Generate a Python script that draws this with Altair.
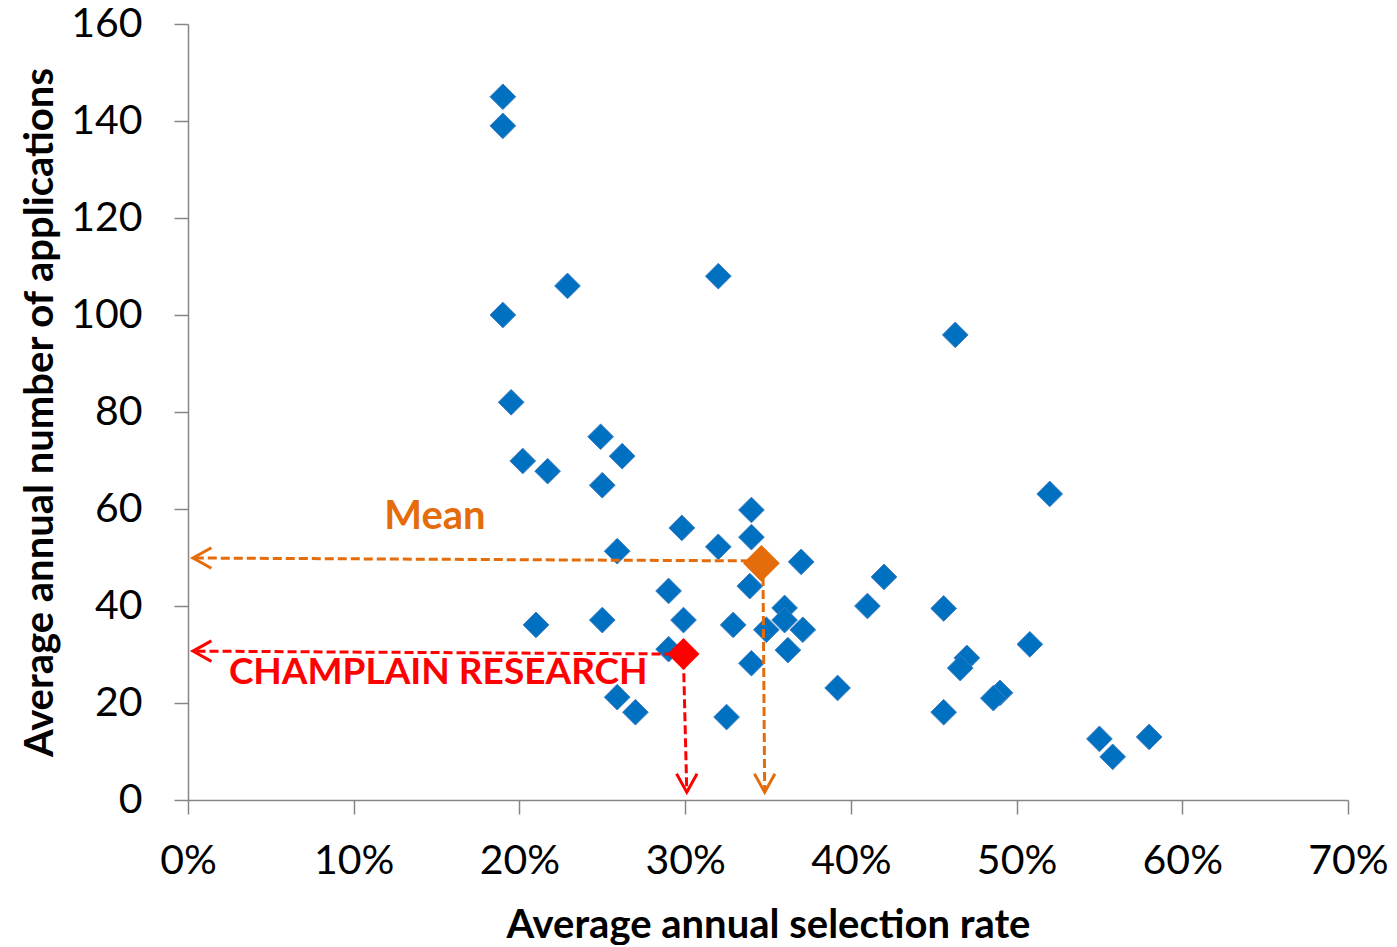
import altair as alt
import pandas as pd

# Blue school points: selection rate (%), applications
rate_pct = [19.0, 19.0, 22.9, 32.0, 46.3, 19.0, 19.5, 24.9, 26.2, 20.2,
            21.7, 25.0, 52.0, 34.0, 29.8, 34.0, 25.9, 32.0, 37.0, 33.9,
            29.0, 42.0, 41.0, 45.6, 36.0, 36.0, 34.9, 37.1, 36.2, 34.0,
            32.9, 29.9, 25.0, 29.0, 25.9, 27.0, 32.5, 39.2, 21.0, 47.0,
            46.6, 50.8, 49.0, 48.6, 45.6, 55.0, 55.8, 58.0]
applications = [145.0, 139.0, 106.0, 108.0, 95.9, 100.0, 82.0, 74.9, 70.9, 69.9,
                67.8, 64.9, 63.1, 59.8, 56.1, 54.2, 51.3, 52.2, 49.1, 44.1,
                43.1, 46.0, 40.0, 39.5, 39.6, 37.1, 35.1, 35.1, 30.9, 28.2,
                36.1, 37.1, 37.1, 31.1, 21.2, 18.1, 17.1, 23.1, 36.1, 29.3,
                27.2, 32.1, 22.1, 21.0, 18.1, 12.6, 8.9, 13.0]

mean_rate_pct = 34.6
mean_apps = 48.8
champlain_rate_pct = 29.9
champlain_apps = 30.1

x_ticks_pct = [0, 10, 20, 30, 40, 50, 60, 70]
y_ticks = [0, 20, 40, 60, 80, 100, 120, 140, 160]

BLUE = "#0070C0"
ORANGE = "#E46C0A"
RED = "#FF0000"
AXIS_GRAY = "#868686"
FONT = "Lato"

pts = pd.DataFrame({"rate": [r / 100 for r in rate_pct], "apps": applications})
mean_df = pd.DataFrame({"rate": [mean_rate_pct / 100], "apps": [mean_apps]})
champ_df = pd.DataFrame({"rate": [champlain_rate_pct / 100], "apps": [champlain_apps]})

xscale = alt.Scale(domain=[0, 0.7], nice=False, zero=True)
yscale = alt.Scale(domain=[0, 160], nice=False)

xaxis = alt.Axis(values=[v / 100 for v in x_ticks_pct], format=".0%", grid=False,
                 labelFlush=False,
                 title="Average annual selection rate", titleY=125, titleBaseline="middle")
yaxis = alt.Axis(values=y_ticks, grid=False, labelFlush=False,
                 title="Average annual number of applications",
                 titleX=-148, titleY=388, titleBaseline="middle", titleAngle=-90)

base_x = alt.X("rate:Q", scale=xscale, axis=xaxis)
base_y = alt.Y("apps:Q", scale=yscale, axis=yaxis)

points = alt.Chart(pts).mark_point(shape="diamond", filled=True, size=660,
                                   color=BLUE, stroke="#3C7DC4", strokeWidth=1,
                                   opacity=1).encode(x=base_x, y=base_y)

# Arrow segments (start rate, start apps, end rate, end apps)
seg_orange = pd.DataFrame({
    "rate": [0.339, 0.347], "apps": [49.3, 46.0],
    "rate2": [0.003, 0.348], "apps2": [49.9, 1.6]})
seg_red = pd.DataFrame({
    "rate": [0.293, 0.299], "apps": [30.1, 28.8],
    "rate2": [0.003, 0.301], "apps2": [30.7, 1.6]})


def segs(df, color):
    return alt.Chart(df).mark_rule(color=color, strokeWidth=3,
                                   strokeDash=[9, 4]).encode(
        x=alt.X("rate:Q", scale=xscale), y=alt.Y("apps:Q", scale=yscale),
        x2="rate2:Q", y2="apps2:Q")


left_head = "M 1.8 -1 L 0 0 L 1.8 1"
down_head = "M -1 -1.8 L 0 0 L 1 -1.8"


def heads(rates, apps, shape, color):
    df = pd.DataFrame({"rate": rates, "apps": apps})
    return alt.Chart(df).mark_point(shape=shape, filled=False, size=420,
                                    color=color, strokeWidth=3, opacity=1).encode(
        x=alt.X("rate:Q", scale=xscale), y=alt.Y("apps:Q", scale=yscale))


orange_heads = heads([0.003], [49.9], left_head, ORANGE) + heads([0.348], [1.6], down_head, ORANGE)
red_heads = heads([0.003], [30.7], left_head, RED) + heads([0.301], [1.6], down_head, RED)

mean_pt = alt.Chart(mean_df).mark_point(shape="diamond", filled=True, size=1350,
                                        color=ORANGE, opacity=1).encode(
    x=alt.X("rate:Q", scale=xscale), y=alt.Y("apps:Q", scale=yscale))
champ_pt = alt.Chart(champ_df).mark_point(shape="diamond", filled=True, size=1024,
                                          color=RED, opacity=1).encode(
    x=alt.X("rate:Q", scale=xscale), y=alt.Y("apps:Q", scale=yscale))

labels_df = pd.DataFrame({"rate": [0.149, 0.151], "apps": [58.4, 26.2],
                          "txt": ["Mean", "CHAMPLAIN RESEARCH"]})
mean_label = alt.Chart(labels_df.iloc[[0]]).mark_text(
    font=FONT, fontWeight="bold", fontSize=40, color=ORANGE, baseline="middle",
    align="center").encode(x=alt.X("rate:Q", scale=xscale),
                           y=alt.Y("apps:Q", scale=yscale), text="txt:N")
champ_label = alt.Chart(labels_df.iloc[[1]]).mark_text(
    font=FONT, fontWeight="bold", fontSize=37, color=RED, baseline="middle",
    align="center").encode(x=alt.X("rate:Q", scale=xscale),
                           y=alt.Y("apps:Q", scale=yscale), text="txt:N")

chart = alt.layer(
    points, segs(seg_orange, ORANGE), segs(seg_red, RED),
    orange_heads, red_heads, mean_pt, champ_pt, mean_label, champ_label
).properties(
    width=1160, height=776,
    autosize=alt.AutoSizeParams(type="none"),
    padding={"left": 180, "top": 16, "right": 40, "bottom": 145},
).configure_view(stroke=None).configure_axis(
    domainColor=AXIS_GRAY, domainWidth=1.5, tickColor=AXIS_GRAY, tickWidth=1.5,
    tickSize=14, labelFont=FONT, labelFontSize=41, labelColor="black",
    titleFont=FONT, titleFontSize=40, titleFontWeight="bold", titleColor="black",
).configure_axisX(labelPadding=27).configure_axisY(labelPadding=32)

chart.save("out.html", embed_options={"renderer": "svg", "actions": False})
